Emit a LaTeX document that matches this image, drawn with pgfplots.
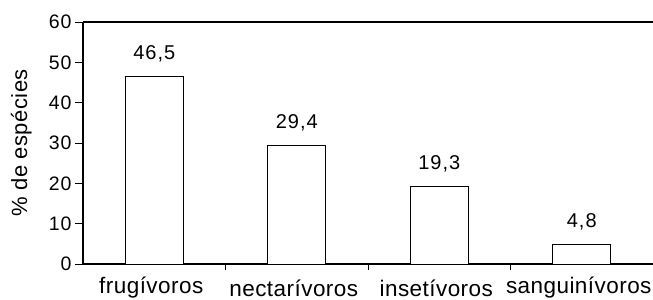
\documentclass[border=0pt]{standalone}
\usepackage{fontspec}
\setmainfont{Liberation Sans}
\newfontfamily\numfont{Liberation Sans}[LetterSpace=5]
\newfontfamily\wordfont{Liberation Sans}[LetterSpace=2]
\usepackage{pgfplots}
\pgfplotsset{compat=1.18}
\begin{document}
\begin{tikzpicture}
\begin{axis}[
  scale only axis,
  width=570pt, height=242pt,
  xmin=-0.5, xmax=3.5,
  ymin=0, ymax=60,
  axis x line=box,
  axis y line=left,
  axis line style={black, line width=1.1pt, -},
  ytick={0,10,...,60},
  xtick={0,1,2,3},
  xticklabels={frugívoros,\raisebox{-3pt}{nectarívoros},\raisebox{-3pt}{insetívoros},sanguinívoros},
  minor xtick={0.5,1.5,2.5},
  major x tick style={draw=none},
  minor x tick style={black, line width=0.8pt},
  y tick style={black, line width=0.8pt},
  tick align=outside,
  major tick length=8pt,
  minor tick length=6pt,
  xtick pos=bottom,
  /pgf/number format/assume math mode=true,
  yticklabel style={font=\numfont\fontsize{19.5}{22}\selectfont},
  xticklabel style={font=\wordfont\fontsize{22.5}{26}\selectfont, inner sep=0pt, anchor=base, yshift=-21.5pt, xshift=-3pt},
  ylabel={\% de espécies},
  ylabel style={font=\wordfont\fontsize{22}{26}\selectfont, inner sep=0pt, at={(axis description cs:-0.0982,0.5)}, anchor=base, rotate=0},
  ybar, bar width=58pt,
  nodes near coords,
  point meta=explicit symbolic,
  every node near coord/.append style={font=\numfont\fontsize{20}{24}\selectfont, inner sep=0pt, anchor=base, yshift=17pt},
]
\addplot[draw=black, fill=white, line width=0.8pt] coordinates {
  (0,46.5) [46,5]
  (1,29.4) [29,4]
  (2,19.3) [19,3]
  (3,4.8) [4,8]
};
\end{axis}
\pgfresetboundingbox
\path ([shift={(-83pt,-36pt)}]current axis.south west) rectangle ([shift={(0pt,22pt)}]current axis.north east);
\end{tikzpicture}
\end{document}
